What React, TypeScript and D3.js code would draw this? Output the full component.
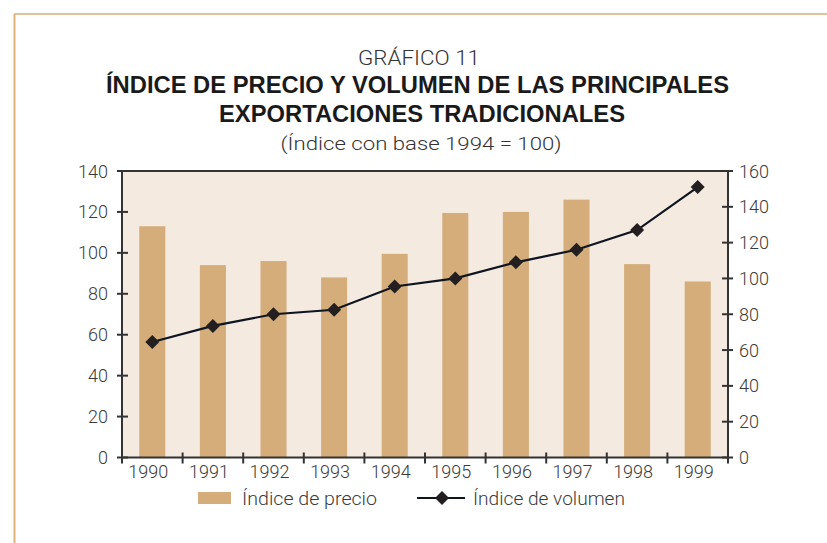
import React from "react";
import * as d3 from "d3";

// data
const years = ["1990", "1991", "1992", "1993", "1994", "1995", "1996", "1997", "1998", "1999"];
const precio = [113, 94, 96, 88, 99.5, 119.5, 120, 126, 94.5, 86];
const volumen = [64.5, 73.5, 80, 82.5, 95.5, 100, 109, 116, 127, 151];
const leftTicks = [0, 20, 40, 60, 80, 100, 120, 140];
const rightTicks = [0, 20, 40, 60, 80, 100, 120, 140, 160];

const W = 827;
const H = 543;
const plot = { left: 122, right: 728, top: 171, bottom: 457.5 };

const lightFont = "Roboto, 'Open Sans', 'Liberation Sans', sans-serif";
const boldFont = "'Liberation Sans Narrow', 'Liberation Sans', Arial, sans-serif";
const textColor = "#3b3b3b";
const axisColor = "#333";

const App: React.FC = () => {
    const x = d3.scaleBand<string>().domain(years).range([plot.left, plot.right]).paddingInner(0).paddingOuter(0);
    const yLeft = d3.scaleLinear().domain([0, 140]).range([plot.bottom, plot.top]);
    const yRight = d3.scaleLinear().domain([0, 160]).range([plot.bottom, plot.top]);
    const barW = x.bandwidth() * 0.43;
    const cx = (d: string) => (x(d) ?? 0) + x.bandwidth() / 2;

    const line = d3
        .line<number>()
        .x((_, i) => cx(years[i]))
        .y((v) => yRight(v));

    const diamond = (px: number, py: number, r: number) =>
        `M${px},${py - r}L${px + r},${py}L${px},${py + r}L${px - r},${py}Z`;

    // band boundaries for x ticks
    const xTicks = years.map((y) => x(y) ?? 0).concat([plot.right]);

    return (
        <svg width={W} height={H} style={{ position: "absolute", left: 0, top: 0, display: "block" }}>
            <rect width={W} height={H} fill="#fff" />
            {/* outer frame */}
            <line x1={14} x2={W} y1={14} y2={14} stroke="#e0c49e" strokeWidth={2} />
            <line x1={14.5} x2={14.5} y1={14} y2={H} stroke="#e0b27a" strokeWidth={2} />

            {/* titles */}
            <text x={419} y={65} textAnchor="middle" fontFamily={lightFont} fontWeight={300} fontSize={21}
                fill="#333" textLength={122} lengthAdjust="spacingAndGlyphs">GRÁFICO 11</text>
            <text x={417.5} y={93} textAnchor="middle" fontFamily={boldFont} fontWeight={700} fontSize={23}
                fill="#1a1a1a" textLength={623} lengthAdjust="spacingAndGlyphs">ÍNDICE DE PRECIO Y VOLUMEN DE LAS PRINCIPALES</text>
            <text x={422} y={122} textAnchor="middle" fontFamily={boldFont} fontWeight={700} fontSize={23}
                fill="#1a1a1a" textLength={406} lengthAdjust="spacingAndGlyphs">EXPORTACIONES TRADICIONALES</text>
            <text x={421} y={150} textAnchor="middle" fontFamily={lightFont} fontWeight={300} fontSize={19}
                fill="#333" textLength={281} lengthAdjust="spacingAndGlyphs">(Índice con base 1994 = 100)</text>

            {/* plot background */}
            <rect x={plot.left} y={plot.top} width={plot.right - plot.left} height={plot.bottom - plot.top} fill="#f4eadf" />

            {/* bars */}
            {precio.map((v, i) => (
                <rect key={years[i]} x={cx(years[i]) - barW / 2} y={yLeft(v)} width={barW}
                    height={plot.bottom - yLeft(v)} fill="#d4ad7b" />
            ))}

            {/* frame */}
            <rect x={plot.left} y={plot.top} width={plot.right - plot.left} height={plot.bottom - plot.top}
                fill="none" stroke={axisColor} strokeWidth={2} />

            {/* left axis */}
            {leftTicks.map((t) => (
                <g key={"l" + t}>
                    <line x1={plot.left - 5} x2={plot.left + 6} y1={yLeft(t)} y2={yLeft(t)} stroke={axisColor} strokeWidth={2} />
                    <text x={108} y={yLeft(t) + 6.5} textAnchor="end" fontFamily={lightFont} fontWeight={300}
                        fontSize={18} fill={textColor}>{t}</text>
                </g>
            ))}

            {/* right axis */}
            {rightTicks.map((t) => (
                <g key={"r" + t}>
                    <line x1={plot.right - 6} x2={plot.right + 5} y1={yRight(t)} y2={yRight(t)} stroke={axisColor} strokeWidth={2} />
                    <text x={739} y={yRight(t) + 6.5} textAnchor="start" fontFamily={lightFont} fontWeight={300}
                        fontSize={18} fill={textColor}>{t}</text>
                </g>
            ))}

            {/* x axis */}
            {xTicks.map((tx, i) => (
                <line key={"x" + i} x1={tx} x2={tx} y1={plot.bottom - 5} y2={plot.bottom + 6} stroke={axisColor} strokeWidth={2} />
            ))}
            {years.map((y) => (
                <text key={"t" + y} x={cx(y) - 4} y={478} textAnchor="middle" fontFamily={lightFont} fontWeight={300}
                    fontSize={18} fill={textColor}>{y}</text>
            ))}

            {/* volume line */}
            <path d={line(volumen) ?? ""} fill="none" stroke="#0e1521" strokeWidth={2.2} />
            {volumen.map((v, i) => (
                <path key={"m" + i} d={diamond(cx(years[i]), yRight(v), 7)} fill="#231f20" />
            ))}

            {/* legend */}
            <rect x={198} y={492} width={33} height={12} fill="#d4ad7b" />
            <text x={242} y={505} fontFamily={lightFont} fontWeight={300} fontSize={19} fill={textColor}
                textLength={135} lengthAdjust="spacingAndGlyphs">Índice de precio</text>
            <line x1={417} x2={465} y1={498} y2={498} stroke="#0e1521" strokeWidth={2} />
            <path d={diamond(442, 498, 7)} fill="#231f20" />
            <text x={473} y={505} fontFamily={lightFont} fontWeight={300} fontSize={19} fill={textColor}
                textLength={152} lengthAdjust="spacingAndGlyphs">Índice de volumen</text>
        </svg>
    );
};

export default App;
